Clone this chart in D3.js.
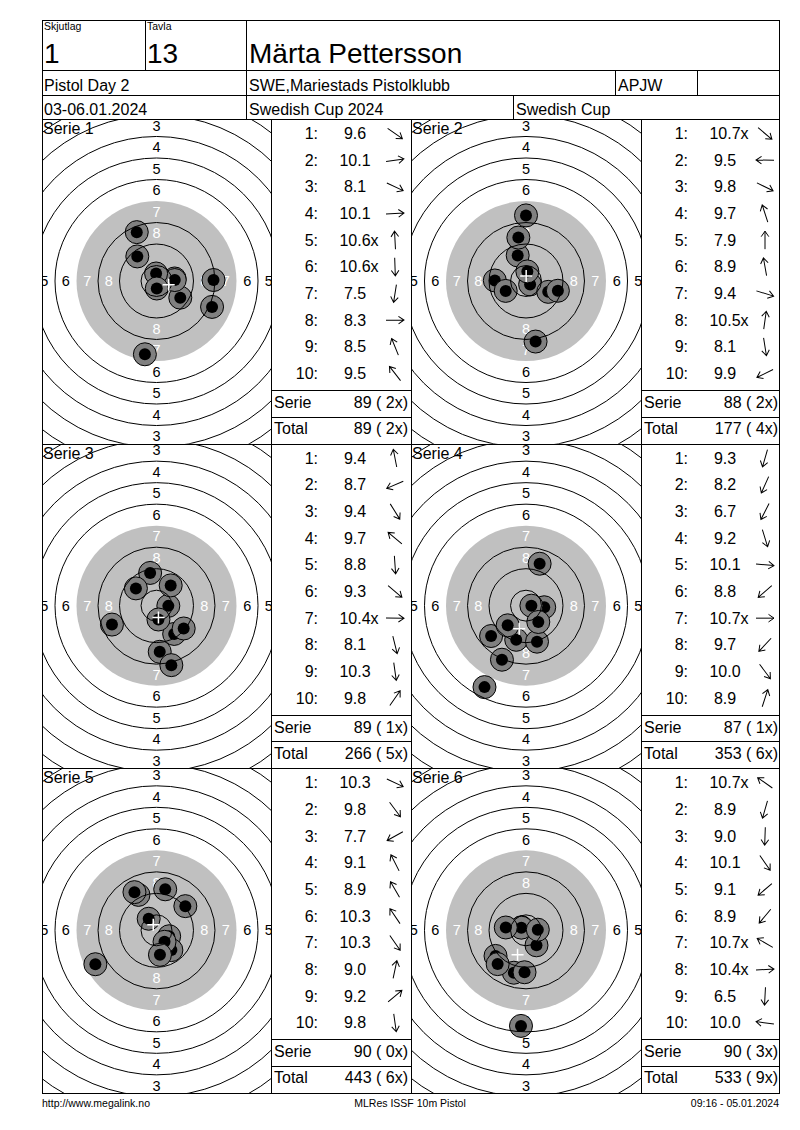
<!DOCTYPE html>
<html>
<head>
<meta charset="utf-8">
<script src="https://cdn.jsdelivr.net/npm/d3@7"></script>
<style>
html, body { margin: 0; padding: 0; background: #fff; }
svg { display: block; font-family: "Liberation Sans", Arial, sans-serif; }
</style>
</head>
<body>
<script>
// header data
const headerLabels = ["Skjutlag", "Tavla"];
const headerValues = ["1", "13"];
const shooterName = "Märta Pettersson";
const infoRow2 = ["Pistol Day 2", "SWE,Mariestads Pistolklubb", "APJW", ""];
const infoRow3 = ["03-06.01.2024", "Swedish Cup 2024", "Swedish Cup"];
const footerTexts = ["http://www.megalink.no", "MLRes ISSF 10m Pistol", "09:16 - 05.01.2024"];

// shot scores per series, as printed
const seriesScores = [
    ["9.6", "10.1", "8.1", "10.1", "10.6x", "10.6x", "7.5", "8.3", "8.5", "9.5"],
    ["10.7x", "9.5", "9.8", "9.7", "7.9", "8.9", "9.4", "10.5x", "8.1", "9.9"],
    ["9.4", "8.7", "9.4", "9.7", "8.8", "9.3", "10.4x", "8.1", "10.3", "9.8"],
    ["9.3", "8.2", "6.7", "9.2", "10.1", "8.8", "10.7x", "9.7", "10.0", "8.9"],
    ["10.3", "9.8", "7.7", "9.1", "8.9", "10.3", "10.3", "9.0", "9.2", "9.8"],
    ["10.7x", "8.9", "9.0", "10.1", "9.1", "8.9", "10.7x", "10.4x", "6.5", "10.0"]
];

// direction of each shot from the centre, degrees (0 = right, 90 = up)
const seriesAngles = [
    [-35, 8, -25, 3, 93, -88, -99, 1, 112, 128],
    [-40, 179, -26, 108, 90, 100, -17, 82, -81, -154],
    [101, -157, -58, 140, -86, -40, -1, -76, -82, 55],
    [-106, -114, -117, -73, -5, -139, 0, -133, -53, 72],
    [-25, -53, -151, 117, 120, 124, -55, 78, 40, -82],
    [145, -106, -92, -55, -140, -130, 150, 3, -93, 172]
];

const ringLabels = [3, 4, 5, 6, 7, 8];
const ringLines = [2, 3, 4, 5, 6, 8, 9, 10];

const W = 800, H = 1130;
const svg = d3.select("body").append("svg").attr("width", W).attr("height", H);

const pageL = 42, pageR = 779, pageT = 20, pageB = 1093;
const bodyTop = 119;
const rowH = (pageB - bodyTop) / 3;
const colX = [42, 271, 411, 641, 779];

// target geometry: mm -> px, score -> distance (mm)
const mm = d3.scaleLinear().domain([0, 37.75]).range([0, 101.5]);
const scoreDist = d3.scaleLinear().domain([10.95, 2.95]).range([0, 64]).clamp(true);
const ringR = k => mm(5.75 + 8 * (10 - k));
const labelR = k => mm(1.75 + 8 * (10 - k));

const lines = svg.append("g")
    .attr("stroke", "#000").attr("stroke-width", 1)
    .attr("shape-rendering", "crispEdges");

function hline(x1, x2, y) {
    lines.append("line").attr("x1", x1).attr("x2", x2)
        .attr("y1", Math.round(y) + 0.5).attr("y2", Math.round(y) + 0.5);
}
function vline(x, y1, y2) {
    lines.append("line").attr("x1", Math.round(x) + 0.5).attr("x2", Math.round(x) + 0.5)
        .attr("y1", y1).attr("y2", y2);
}
function text(x, y, str, size, anchor) {
    return svg.append("text").attr("x", x).attr("y", y)
        .attr("font-size", size).attr("text-anchor", anchor || "start")
        .attr("fill", "#000").text(str);
}

// ---------- targets + tables ----------
let runTotal = 0, runX = 0;

seriesScores.forEach((scores, si) => {
    const row = Math.floor(si / 2), col = si % 2;
    const rowTop = bodyTop + row * rowH;
    const tx = colX[col * 2], tw = colX[col * 2 + 1] - tx;
    const L = colX[col * 2 + 1], R = colX[col * 2 + 2];
    const cx = tx + tw / 2, cy = rowTop + 162;

    const clipId = "clip" + si;
    svg.append("clipPath").attr("id", clipId)
        .append("rect").attr("x", tx).attr("y", rowTop).attr("width", tw).attr("height", rowH);

    const g = svg.append("g").attr("clip-path", "url(#" + clipId + ")")
        .append("g").attr("transform", `translate(${cx},${cy})`);

    g.append("circle").attr("r", ringR(7)).attr("fill", "#c0c0c0");

    ringLabels.forEach(k => {
        const r = labelR(k);
        [[0, -r], [0, r], [-r, 0], [r, 0]]
            .filter(p => Math.abs(p[0]) < tw / 2)   // skip labels outside the cell
            .forEach(p => {
                g.append("text").attr("x", p[0]).attr("y", p[1])
                    .attr("text-anchor", "middle").attr("dominant-baseline", "central")
                    .attr("font-size", 14.5)
                    .attr("fill", k >= 7 ? "#fff" : "#000")
                    .text(k);
            });
    });

    const shots = scores.map((s, i) => {
        const v = parseFloat(s);
        const a = seriesAngles[si][i] * Math.PI / 180;
        const d = mm(scoreDist(v));
        return { score: s, value: v, inner: s.endsWith("x"), angle: seriesAngles[si][i],
                 x: d * Math.cos(a), y: -d * Math.sin(a) };
    });

    const sg = g.selectAll("g.shot").data(shots).enter().append("g")
        .attr("class", "shot")
        .attr("transform", d => `translate(${d.x},${d.y})`);
    sg.append("circle").attr("r", 11.5).attr("fill", "#808080").attr("stroke", "#000").attr("stroke-width", 1);
    sg.append("circle").attr("r", 6).attr("fill", "#000");

    g.selectAll("circle.ring").data(ringLines).enter().append("circle")
        .attr("class", "ring").attr("r", d => ringR(d))
        .attr("fill", "none").attr("stroke", "#000").attr("stroke-width", 1);

    const mx = d3.mean(shots, d => d.x), my = d3.mean(shots, d => d.y);
    g.append("path").attr("d", `M${mx - 6},${my}H${mx + 6}M${mx},${my - 6}V${my + 6}`)
        .attr("stroke", "#fff").attr("stroke-width", 1.5);

    svg.append("text").attr("x", tx + 1).attr("y", rowTop + 15)
        .attr("font-size", 16).text("Serie " + (si + 1));

    // table
    const rowY = d3.scaleLinear().domain([0, 9]).range([rowTop + 20, rowTop + 260]);
    shots.forEach((d, i) => {
        const y = rowY(i);
        text(L + 47, y, (i + 1) + ":", 16, "end");
        // the number part is centred, an inner-ten "x" hangs after it
        const num = d.inner ? d.score.slice(0, -1) : d.score;
        const t = text(L + 84, y, num, 16, "start");
        const w = t.node().getComputedTextLength();
        t.attr("x", L + 84 - w / 2).text(d.score);
        svg.append("path")
            .attr("transform", `translate(${L + 124},${y - 5.5}) rotate(${-d.angle})`)
            .attr("d", "M-9,0L9,0M3.5,-3.8L9,0L3.5,3.8")
            .attr("fill", "none").attr("stroke", "#000").attr("stroke-width", 1);
    });

    const serieSum = d3.sum(shots, d => Math.floor(d.value));
    const serieX = shots.filter(d => d.inner).length;
    runTotal += serieSum; runX += serieX;

    hline(L, R, rowTop + 271);
    hline(L, R, rowTop + 297.7);
    text(L + 3, rowTop + 289, "Serie", 16);
    text(L + 137, rowTop + 289, `${serieSum} ( ${serieX}x)`, 16, "end");
    text(L + 3, rowTop + 315, "Total", 16);
    text(L + 137, rowTop + 315, `${runTotal} ( ${runX}x)`, 16, "end");
});

// ---------- grid ----------
lines.append("rect").attr("x", pageL + 0.5).attr("y", pageT + 0.5)
    .attr("width", pageR - pageL).attr("height", pageB - pageT).attr("fill", "none");
hline(pageL, pageR, 70);
hline(pageL, pageR, 95);
hline(pageL, pageR, bodyTop);
vline(145, pageT, 70);
vline(246, pageT, 70);
vline(246, 70, 95); vline(615, 70, 95); vline(697, 70, 95);
vline(246, 95, bodyTop); vline(513, 95, bodyTop);
hline(pageL, pageR, bodyTop + rowH);
hline(pageL, pageR, bodyTop + 2 * rowH);
[271, 411, 641].forEach(x => vline(x, bodyTop, pageB));

// ---------- header texts ----------
text(44, 30, headerLabels[0], 10.5);
text(147, 30, headerLabels[1], 10.5);
text(44, 63, headerValues[0], 28);
text(147, 63, headerValues[1], 28);
text(249, 63, shooterName, 28);
[44, 249, 618, 700].forEach((x, i) => text(x, 91, infoRow2[i], 16));
[44, 249, 516].forEach((x, i) => text(x, 115, infoRow3[i], 16));

// ---------- footer ----------
text(42, 1107, footerTexts[0], 10.5);
text(410, 1107, footerTexts[1], 10.5, "middle");
text(779, 1107, footerTexts[2], 10.5, "end");
</script>
</body>
</html>
